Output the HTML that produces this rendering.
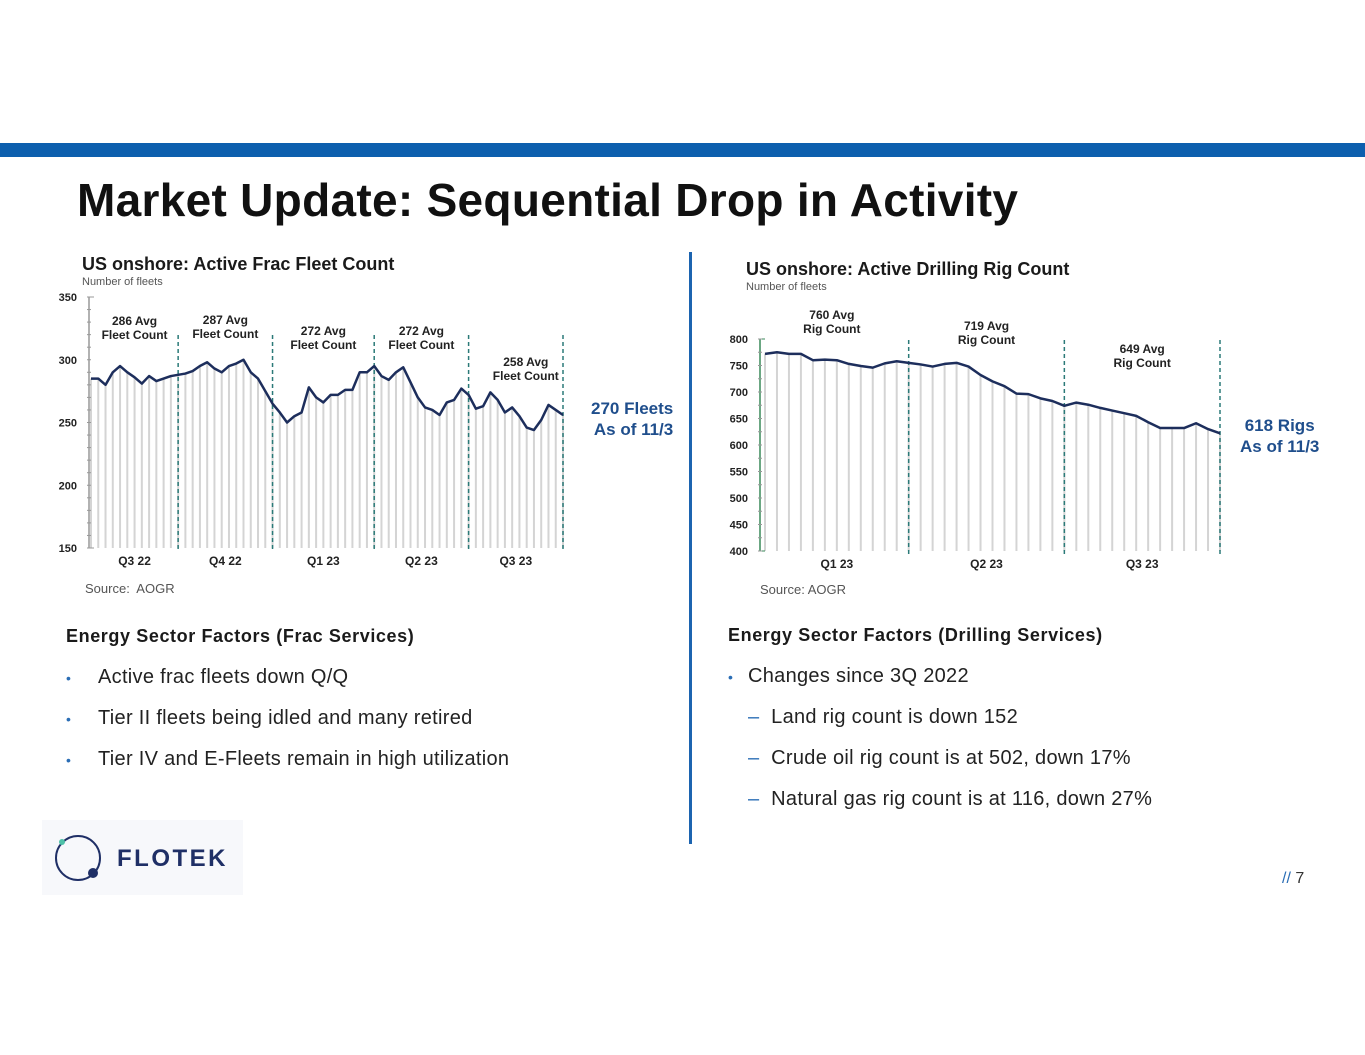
<!DOCTYPE html>
<html><head><meta charset="utf-8">
<style>
body{margin:0;width:1365px;height:1055px;background:#fff;position:relative;overflow:hidden;font-family:"Liberation Sans",sans-serif;color:#1a1a1a}
.a{position:absolute;white-space:nowrap}
.h{font-weight:bold;font-size:18px;letter-spacing:0.6px}
.b{font-size:20px;color:#222;letter-spacing:0.3px}
.dot{color:#2a6db5;font-size:14px}
</style></head><body>
<div class="a" style="left:0;top:143px;width:1365px;height:14px;background:#0d5fae"></div>
<div class="a" style="left:77px;top:173px;font-size:46px;font-weight:bold;color:#111;letter-spacing:0.3px">Market Update: Sequential Drop in Activity</div>
<div class="a" style="left:689px;top:252px;width:3px;height:592px;background:#1c64b0"></div>

<svg class="a" style="left:0;top:0" width="690" height="610" id="c1"></svg>
<svg class="a" style="left:692px;top:0" width="673" height="610" id="c2"></svg>

<div class="a" style="left:591px;top:398px;font-size:17px;font-weight:bold;color:#1f4e8c;line-height:21px;text-align:right">270 Fleets<br>As of 11/3</div>
<div class="a" style="left:1240px;top:415px;font-size:17px;font-weight:bold;color:#1f4e8c;line-height:21px;text-align:center">618 Rigs<br>As of 11/3</div>

<div class="a" style="left:85px;top:581px;font-size:13px;color:#555">Source:&nbsp; AOGR</div>
<div class="a" style="left:760px;top:582px;font-size:13px;color:#555">Source: AOGR</div>

<div class="a h" style="left:66px;top:626px">Energy Sector Factors (Frac Services)</div>
<div class="a b" style="left:66px;top:666px"><span class="dot">•</span><span style="position:absolute;left:32px">Active frac fleets down Q/Q</span></div>
<div class="a b" style="left:66px;top:707px"><span class="dot">•</span><span style="position:absolute;left:32px">Tier II fleets being idled and many retired</span></div>
<div class="a b" style="left:66px;top:748px"><span class="dot">•</span><span style="position:absolute;left:32px">Tier IV and E-Fleets remain in high utilization</span></div>

<div class="a h" style="left:728px;top:625px">Energy Sector Factors (Drilling Services)</div>
<div class="a b" style="left:728px;top:665px"><span class="dot">•</span><span style="position:absolute;left:20px">Changes since 3Q 2022</span></div>
<div class="a b" style="left:748px;top:706px"><span style="color:#2a6db5">–</span>&nbsp; Land rig count is down 152</div>
<div class="a b" style="left:748px;top:747px"><span style="color:#2a6db5">–</span>&nbsp; Crude oil rig count is at 502, down 17%</div>
<div class="a b" style="left:748px;top:788px"><span style="color:#2a6db5">–</span>&nbsp; Natural gas rig count is at 116, down 27%</div>

<div class="a" style="left:42px;top:820px;width:201px;height:75px;background:#f7f8fb">
<svg width="201" height="75" style="position:absolute;left:0;top:0"><circle cx="36" cy="38" r="22" fill="none" stroke="#1f2f66" stroke-width="2"/><circle cx="20" cy="22" r="3" fill="#4fc1a8"/><circle cx="51" cy="53" r="5" fill="#1f2f66"/></svg>
<div class="a" style="left:75px;top:25px;font-size:24px;font-weight:bold;color:#1f2f66;letter-spacing:2.5px">FLOTEK</div>
</div>
<div class="a" style="left:1282px;top:870px;font-size:16px;color:#333"><span style="color:#2a6db5">//</span> 7</div>

<script>
const fracValues=[285,285,280,290,295,290,286,281,287,283,285,287,288,289,291,295,298,293,290,295,297,300,290,285,275,265,258,250,255,258,278,270,266,272,272,276,276,290,290,295,287,284,290,294,282,270,262,260,256,266,268,277,272,261,263,274,268,258,262,255,246,244,252,264,260,256];
const fracTicks=[150,200,250,300,350];
const fracQuarters=["Q3 22","Q4 22","Q1 23","Q2 23","Q3 23"];
const fracAvgs=["286","287","272","272","258"];
const rigValues=[772,775,772,772,760,761,760,753,749,746,754,758,755,752,748,753,755,748,732,720,711,697,696,688,683,674,680,676,670,665,660,655,643,632,632,632,641,630,622];
const rigTicks=[400,450,500,550,600,650,700,750,800];
const rigQuarters=["Q1 23","Q2 23","Q3 23"];
const rigAvgs=["760","719","649"];
const NS="http://www.w3.org/2000/svg";
function mk(svg,tag,at,txt){const e=document.createElementNS(NS,tag);for(const k in at)e.setAttribute(k,at[k]);if(txt!==undefined)e.textContent=txt;svg.appendChild(e);return e;}
function chart(id,o){
 const svg=document.getElementById(id);
 const y=v=>o.y0+(v-o.min)/(o.max-o.min)*(o.y1-o.y0);
 const n=o.vals.length;
 const x=i=>o.x0+i*(o.x1-o.x0)/(n-1);
 let t=mk(svg,'text',{x:o.tx,y:o.ty,'font-size':18,'font-weight':'bold',fill:'#1a1a1a'},o.title);
 
 t=mk(svg,'text',{x:o.tx,y:o.ty+15,'font-size':11,fill:'#555'},'Number of fleets');
 
 for(let i=0;i<n;i++){const g=mk(svg,'line',{x1:x(i),x2:x(i),y1:y(o.vals[i]),y2:o.y0,stroke:'#d4d4d4','stroke-width':2});
  }
 mk(svg,'line',{x1:o.ax,x2:o.ax,y1:y(o.max),y2:o.y0,stroke:o.axc,'stroke-width':1.5});
 mk(svg,'line',{x1:o.ax,x2:o.ax+5,y1:y(o.max),y2:y(o.max),stroke:o.axc});
 mk(svg,'line',{x1:o.ax,x2:o.ax+5,y1:o.y0,y2:o.y0,stroke:o.axc});
 const step=(o.ticks[1]-o.ticks[0])/o.minor;
 for(let v=o.min;v<=o.max;v+=step)mk(svg,'line',{x1:o.ax-2,x2:o.ax+2,y1:y(v),y2:y(v),stroke:'#999','stroke-width':1});
 o.ticks.forEach(v=>{const e=mk(svg,'text',{x:o.ax-12,y:y(v)+4,'font-size':11,'font-weight':'bold','text-anchor':'end',fill:'#222'},v);
  });
 o.divs.forEach(i=>{const d=mk(svg,'line',{x1:x(i),x2:x(i),y1:o.dTop,y2:o.y0+4,stroke:'#2b7a78','stroke-width':1.5,'stroke-dasharray':'4,3'});
  });
 o.quarters.forEach((q,k)=>{const a=o.qStart[k],b=o.qEnd[k];const cx=(x(a)+x(b))/2;
  const e=mk(svg,'text',{x:cx,y:o.y0+17,'font-size':12,'font-weight':'bold','text-anchor':'middle',fill:'#222'},q);
  
  const ly=o.avgY[k];
  const a1=mk(svg,'text',{x:cx+o.avgDx[k],y:ly,'font-size':12,'font-weight':'bold','text-anchor':'middle',fill:'#222'},o.avgs[k]+' Avg');
  
  mk(svg,'text',{x:cx+o.avgDx[k],y:ly+14,'font-size':12,'font-weight':'bold','text-anchor':'middle',fill:'#222'},o.unit);
 });
 const pts=o.vals.map((v,i)=>x(i)+','+y(v)).join(' ');
 const l=mk(svg,'polyline',{points:pts,fill:'none',stroke:'#1d2e5c','stroke-width':2.5,'stroke-linejoin':'round'});
 
}
chart('c1',{vals:fracValues,ticks:fracTicks,quarters:fracQuarters,avgs:fracAvgs,min:150,max:350,y0:548,y1:297,x0:91,x1:563,ax:89,axc:'#999',minor:5,
 divs:[12,25,39,52,65],dTop:335,qStart:[0,12,25,39,52],qEnd:[12,25,39,52,65],avgY:[325,324,335,335,366],avgDx:[0,0,0,0,10],unit:'Fleet Count',
 tx:82,ty:270,title:'US onshore: Active Frac Fleet Count'});
chart('c2',{vals:rigValues,ticks:rigTicks,quarters:rigQuarters,avgs:rigAvgs,min:400,max:800,y0:551,y1:339,x0:73,x1:528,ax:68,axc:'#3a8a5a',minor:2,
 divs:[12,25,38],dTop:340,qStart:[0,12,25],qEnd:[12,25,38],avgY:[319,330,353],avgDx:[-5,0,0],unit:'Rig Count',
 tx:54,ty:275,title:'US onshore: Active Drilling Rig Count'});
</script>
</body></html>
